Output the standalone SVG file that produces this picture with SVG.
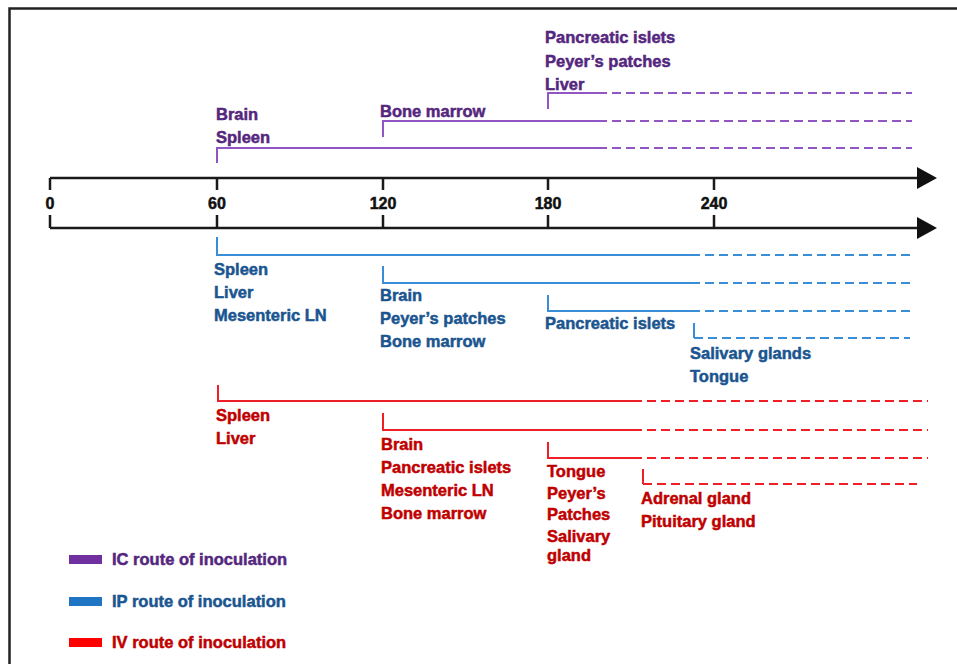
<svg xmlns="http://www.w3.org/2000/svg" width="957" height="664" viewBox="0 0 957 664">
<style>
text{font-family:"Liberation Sans",Arial,sans-serif;font-weight:bold;font-size:16.5px;stroke-width:0.5px;paint-order:stroke}
.ax{stroke:#1a1a1a;stroke-width:2.5;fill:none}
.tl{font-size:16px;fill:#111;stroke:#111;text-anchor:middle}
.ln{fill:none;stroke-width:2}
.ds{fill:none;stroke-width:2;stroke-dasharray:9 5}
.pu{stroke:#9256c4}.bl{stroke:#3a8ed8}.rd{stroke:#ee2026}
.tpu{fill:#54267e;stroke:#54267e}.tbl{fill:#1a5590;stroke:#1a5590}.trd{fill:#bf0000;stroke:#bf0000}
</style>
<rect width="957" height="664" fill="#fff"/>
<path d="M9.5,664 V8.5 H957" fill="none" stroke="#222" stroke-width="2.5"/>
<g id="axes">
<path class="ax" d="M50,178 H918 M50,228 H918"/>
<polygon points="917,167 937,178 917,189" fill="#111"/>
<polygon points="917,217 937,228 917,239" fill="#111"/>
<path class="ax" d="M50,178 V190 M217,178 V190 M383,178 V190 M548,178 V190 M714,178 V190 M50,228 V215 M217,228 V215 M383,228 V215 M548,228 V215 M714,228 V215"/>
<text class="tl" x="50" y="209">0</text>
<text class="tl" x="217" y="209">60</text>
<text class="tl" x="383" y="209">120</text>
<text class="tl" x="548" y="209">180</text>
<text class="tl" x="714" y="209">240</text>
</g>
<g id="connectors">
<path class="ln pu" d="M217,163 V148 H598 M383,137 V121 H598 M548,109 V93 H598"/>
<path class="ds pu" d="M598,148 H912 M598,121 H912 M598,93 H912"/>
<path class="ln bl" d="M217,237 V255 H691 M383,266 V283 H691 M548,295 V311 H691 M694,323 V338"/>
<path class="ds bl" d="M691,255 H910 M691,283 H910 M691,311 H910 M694,338 H910"/>
<path class="ln rd" d="M218,385 V401 H633 M383,413 V430 H633 M548,442 V458 H633 M643,469 V484"/>
<path class="ds rd" d="M633,401 H928 M633,430 H928 M633,458 H928 M643,484 H917"/>
</g>
<g id="ic-60" class="tpu"><text x="216" y="120">Brain</text><text x="216" y="143">Spleen</text></g>
<g id="ic-120" class="tpu"><text x="380" y="117">Bone marrow</text></g>
<g id="ic-180" class="tpu"><text x="545" y="43">Pancreatic islets</text><text x="545" y="67">Peyer’s patches</text><text x="545" y="90">Liver</text></g>
<g id="ip-60" class="tbl"><text x="214" y="275">Spleen</text><text x="214" y="298">Liver</text><text x="214" y="321">Mesenteric LN</text></g>
<g id="ip-120" class="tbl"><text x="380" y="301">Brain</text><text x="380" y="324">Peyer’s patches</text><text x="380" y="347">Bone marrow</text></g>
<g id="ip-180" class="tbl"><text x="545" y="329">Pancreatic islets</text></g>
<g id="ip-240" class="tbl"><text x="690" y="359">Salivary glands</text><text x="690" y="382">Tongue</text></g>
<g id="iv-60" class="trd"><text x="216" y="421">Spleen</text><text x="216" y="444">Liver</text></g>
<g id="iv-120" class="trd"><text x="381" y="450">Brain</text><text x="381" y="473">Pancreatic islets</text><text x="381" y="496">Mesenteric LN</text><text x="381" y="519">Bone marrow</text></g>
<g id="iv-180" class="trd"><text x="547" y="477">Tongue</text><text x="547" y="499">Peyer’s</text><text x="547" y="520">Patches</text><text x="547" y="542">Salivary</text><text x="547" y="561">gland</text></g>
<g id="iv-210" class="trd"><text x="641" y="504">Adrenal gland</text><text x="641" y="527">Pituitary gland</text></g>
<g id="legend">
<rect x="69" y="555" width="33" height="9" fill="#7030a0"/>
<text class="tpu" x="112" y="565">IC route of inoculation</text>
<rect x="69" y="597" width="33" height="9" fill="#1f74c4"/>
<text class="tbl" x="112" y="607">IP route of inoculation</text>
<rect x="69" y="638" width="33" height="9" fill="#ff0000"/>
<text class="trd" x="112" y="648">IV route of inoculation</text>
</g>
</svg>
